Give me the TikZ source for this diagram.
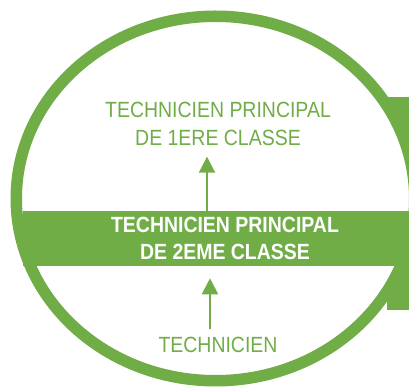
\documentclass[tikz,border=0pt]{standalone}
\usepackage{fontspec}
\setmainfont{Liberation Sans}[FakeStretch=0.885]
\usetikzlibrary{arrows.meta}
\definecolor{lgreen}{HTML}{70AD47}
\tikzset{
  txt/.style={text=lgreen, font=\fontsize{22pt}{27.6pt}\selectfont, align=center, inner sep=0pt},
  bandtxt/.style={text=white, font=\fontsize{22pt}{27pt}\selectfont\bfseries, align=center, inner sep=0pt},
  arr/.style={draw=lgreen, line width=2pt, -{Triangle[length=16pt,width=16pt]}}
}
\begin{document}
\begin{tikzpicture}[x=1pt,y=1pt]
\useasboundingbox (0,0) rectangle (409,387);
\clip (0,0) rectangle (409,387);
% right tab
\fill[lgreen] (387,77) rectangle (415,290);
% ring
\draw[line width=11.5pt, draw=lgreen, fill=white] (215.5,188.5) ellipse [x radius=199.25, y radius=182.25];
% band
\node (band) [fill=lgreen, inner sep=0pt, minimum width=392pt, minimum height=55pt] at (218.7,148.5) {};
\node (mid) [bandtxt] at (225,148.1) {TECHNICIEN PRINCIPAL\\DE 2EME CLASSE};
\node (top) [txt] at (218,262.8) {TECHNICIEN PRINCIPAL\\DE 1ERE CLASSE};
\node (bot) [txt] at (218,42.1) {TECHNICIEN};
% arrows
\coordinate (uptip) at (207,230.3);
\coordinate (lowtip) at (210,108.7);
\coordinate (lowbase) at (210,57.7);
\draw[arr] (band.north -| uptip) -- (uptip);
\draw[arr] (lowbase) -- (lowtip);
\end{tikzpicture}
\end{document}
